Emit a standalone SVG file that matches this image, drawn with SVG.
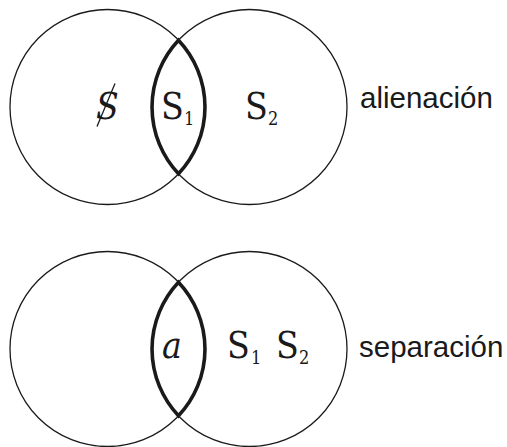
<svg xmlns="http://www.w3.org/2000/svg" width="507" height="447" viewBox="0 0 507 447">
<style>
.c{fill:none;stroke:#1a1a1a;stroke-width:1.3}
.lens{fill:none;stroke:#1a1a1a;stroke-width:3.6;stroke-linejoin:miter}
.m{font-family:"DejaVu Serif Condensed","DejaVu Serif","Liberation Serif",serif;font-stretch:condensed;font-size:37px;fill:#1a1a1a}
.sub{font-family:"DejaVu Serif Condensed","DejaVu Serif","Liberation Serif",serif;font-stretch:condensed;font-size:18px;fill:#1a1a1a}
.lbl{font-family:"Liberation Sans",Arial,sans-serif;font-size:29.5px;fill:#1a1a1a}
</style>
<rect width="507" height="447" fill="#fff"/>
<g id="alienacion">
<g id="top-left"><circle class="c" cx="107.5" cy="107" r="97.5"/></g>
<g id="top-right"><circle class="c" cx="249.5" cy="107" r="97.5"/></g>
<g id="top-lens"><path class="lens" d="M178.5,40.2 A97.5,97.5 0 0 1 178.5,173.8 A97.5,97.5 0 0 1 178.5,40.2 Z"/></g>
<g id="barredS"><text class="m" x="96" y="119" font-style="italic">S</text><line x1="97" y1="126.5" x2="115" y2="83.5" stroke="#1a1a1a" stroke-width="1.3"/></g>
<g id="S1-top"><text class="m" x="161" y="119">S</text><text class="sub" x="184" y="125">1</text></g>
<g id="S2-top"><text class="m" x="245" y="119">S</text><text class="sub" x="268" y="125">2</text></g>
<g id="lbl-top"><text class="lbl" x="360" y="108">alienación</text></g>
</g>
<g id="separacion">
<g id="bot-left"><circle class="c" cx="107.5" cy="349" r="97.5"/></g>
<g id="bot-right"><circle class="c" cx="249.5" cy="349" r="97.5"/></g>
<g id="bot-lens"><path class="lens" d="M178.5,282.2 A97.5,97.5 0 0 1 178.5,415.8 A97.5,97.5 0 0 1 178.5,282.2 Z"/></g>
<g id="a"><text class="m" x="162" y="358" font-style="italic">a</text></g>
<g id="S1-bot"><text class="m" x="227" y="358">S</text><text class="sub" x="251" y="364">1</text></g>
<g id="S2-bot"><text class="m" x="276" y="358">S</text><text class="sub" x="299" y="364">2</text></g>
<g id="lbl-bot"><text class="lbl" x="359" y="357">separación</text></g>
</g>
</svg>
